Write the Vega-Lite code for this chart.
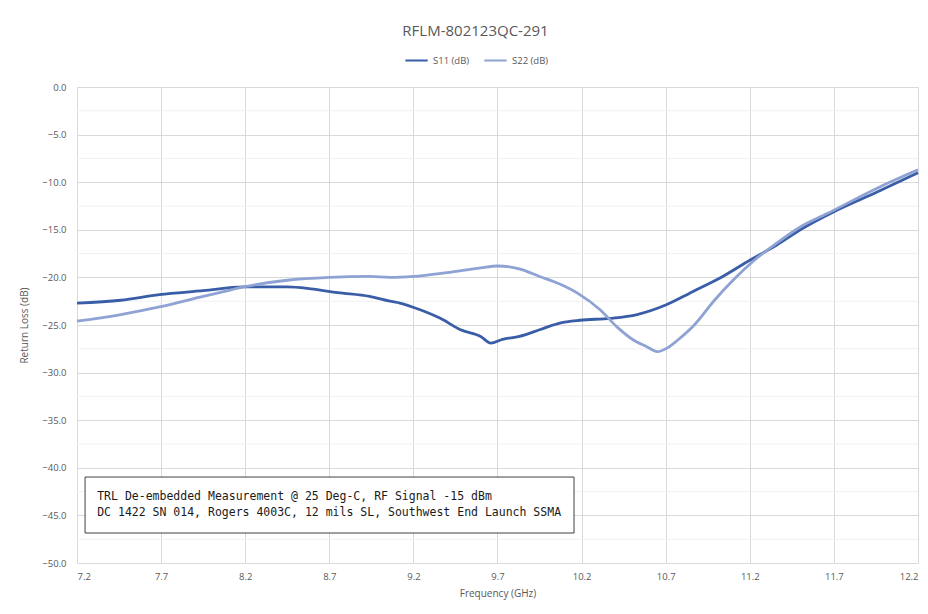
{
  "$schema": "https://vega.github.io/schema/vega-lite/v6.json",
  "width": 841,
  "height": 476,
  "autosize": "none",
  "padding": {"left": 77, "top": 87, "right": 10, "bottom": 51},
  "background": "white",
  "title": {"text": "RFLM-802123QC-291", "fontSize": 15, "font": "Open Sans", "fontWeight": "normal", "color": "#595959", "anchor": "middle", "offset": 9, "dx": -22},
  "config": {
    "view": {"stroke": null},
    "font": "Open Sans"
  },
  "datasets": {
    "curves": [
      {"freq": 7.2, "db": -22.7, "series": "S11 (dB)"},
      {"freq": 7.46, "db": -22.4, "series": "S11 (dB)"},
      {"freq": 7.69, "db": -21.8, "series": "S11 (dB)"},
      {"freq": 7.95, "db": -21.4, "series": "S11 (dB)"},
      {"freq": 8.19, "db": -21.0, "series": "S11 (dB)"},
      {"freq": 8.45, "db": -21.0, "series": "S11 (dB)"},
      {"freq": 8.59, "db": -21.2, "series": "S11 (dB)"},
      {"freq": 8.75, "db": -21.6, "series": "S11 (dB)"},
      {"freq": 8.94, "db": -22.0, "series": "S11 (dB)"},
      {"freq": 9.06, "db": -22.5, "series": "S11 (dB)"},
      {"freq": 9.12, "db": -22.7, "series": "S11 (dB)"},
      {"freq": 9.24, "db": -23.4, "series": "S11 (dB)"},
      {"freq": 9.36, "db": -24.3, "series": "S11 (dB)"},
      {"freq": 9.48, "db": -25.5, "series": "S11 (dB)"},
      {"freq": 9.6, "db": -26.2, "series": "S11 (dB)"},
      {"freq": 9.66, "db": -26.9, "series": "S11 (dB)"},
      {"freq": 9.73, "db": -26.5, "series": "S11 (dB)"},
      {"freq": 9.83, "db": -26.2, "series": "S11 (dB)"},
      {"freq": 9.95, "db": -25.5, "series": "S11 (dB)"},
      {"freq": 10.07, "db": -24.8, "series": "S11 (dB)"},
      {"freq": 10.19, "db": -24.5, "series": "S11 (dB)"},
      {"freq": 10.37, "db": -24.3, "series": "S11 (dB)"},
      {"freq": 10.53, "db": -23.9, "series": "S11 (dB)"},
      {"freq": 10.7, "db": -22.9, "series": "S11 (dB)"},
      {"freq": 10.86, "db": -21.5, "series": "S11 (dB)"},
      {"freq": 11.02, "db": -20.1, "series": "S11 (dB)"},
      {"freq": 11.2, "db": -18.2, "series": "S11 (dB)"},
      {"freq": 11.36, "db": -16.6, "series": "S11 (dB)"},
      {"freq": 11.5, "db": -15.0, "series": "S11 (dB)"},
      {"freq": 11.7, "db": -13.1, "series": "S11 (dB)"},
      {"freq": 11.96, "db": -11.0, "series": "S11 (dB)"},
      {"freq": 12.2, "db": -9.0, "series": "S11 (dB)"},
      {"freq": 7.2, "db": -24.6, "series": "S22 (dB)"},
      {"freq": 7.46, "db": -23.9, "series": "S22 (dB)"},
      {"freq": 7.69, "db": -23.1, "series": "S22 (dB)"},
      {"freq": 7.95, "db": -22.0, "series": "S22 (dB)"},
      {"freq": 8.07, "db": -21.5, "series": "S22 (dB)"},
      {"freq": 8.19, "db": -21.0, "series": "S22 (dB)"},
      {"freq": 8.45, "db": -20.3, "series": "S22 (dB)"},
      {"freq": 8.7, "db": -20.0, "series": "S22 (dB)"},
      {"freq": 8.94, "db": -19.9, "series": "S22 (dB)"},
      {"freq": 9.06, "db": -20.0, "series": "S22 (dB)"},
      {"freq": 9.2, "db": -19.9, "series": "S22 (dB)"},
      {"freq": 9.4, "db": -19.5, "series": "S22 (dB)"},
      {"freq": 9.6, "db": -19.0, "series": "S22 (dB)"},
      {"freq": 9.7, "db": -18.8, "series": "S22 (dB)"},
      {"freq": 9.83, "db": -19.1, "series": "S22 (dB)"},
      {"freq": 9.95, "db": -19.9, "series": "S22 (dB)"},
      {"freq": 10.07, "db": -20.7, "series": "S22 (dB)"},
      {"freq": 10.18, "db": -21.7, "series": "S22 (dB)"},
      {"freq": 10.31, "db": -23.4, "series": "S22 (dB)"},
      {"freq": 10.41, "db": -25.2, "series": "S22 (dB)"},
      {"freq": 10.51, "db": -26.6, "series": "S22 (dB)"},
      {"freq": 10.59, "db": -27.3, "series": "S22 (dB)"},
      {"freq": 10.65, "db": -27.8, "series": "S22 (dB)"},
      {"freq": 10.71, "db": -27.4, "series": "S22 (dB)"},
      {"freq": 10.77, "db": -26.6, "series": "S22 (dB)"},
      {"freq": 10.87, "db": -25.0, "series": "S22 (dB)"},
      {"freq": 10.99, "db": -22.4, "series": "S22 (dB)"},
      {"freq": 11.1, "db": -20.3, "series": "S22 (dB)"},
      {"freq": 11.22, "db": -18.3, "series": "S22 (dB)"},
      {"freq": 11.36, "db": -16.4, "series": "S22 (dB)"},
      {"freq": 11.5, "db": -14.7, "series": "S22 (dB)"},
      {"freq": 11.66, "db": -13.3, "series": "S22 (dB)"},
      {"freq": 11.96, "db": -10.6, "series": "S22 (dB)"},
      {"freq": 12.2, "db": -8.7, "series": "S22 (dB)"}
    ],
    "minor": [
      {"db": -2.5}, {"db": -7.5}, {"db": -12.5}, {"db": -17.5}, {"db": -22.5},
      {"db": -27.5}, {"db": -32.5}, {"db": -37.5}, {"db": -42.5}, {"db": -47.5}
    ],
    "box": [
      {"x1": 7.248, "x2": 10.155, "y1": -40.97, "y2": -46.85}
    ],
    "notes": [
      {"freq": 7.32, "db": -43.07, "label": "TRL De-embedded Measurement @ 25 Deg-C, RF Signal -15 dBm"},
      {"freq": 7.32, "db": -44.75, "label": "DC 1422 SN 014, Rogers 4003C, 12 mils SL, Southwest End Launch SSMA"}
    ]
  },
  "layer": [
    {
      "data": {"name": "minor"},
      "mark": {"type": "rule", "color": "#f0f0f0", "strokeWidth": 1},
      "encoding": {
        "y": {"field": "db", "type": "quantitative", "scale": {"domain": [-50, 0], "nice": false}}
      }
    },
    {
      "data": {"name": "curves"},
      "mark": {"type": "line", "strokeWidth": 2.8, "interpolate": "monotone"},
      "encoding": {
        "x": {
          "field": "freq", "type": "quantitative",
          "scale": {"domain": [7.2, 12.2], "nice": false, "zero": false},
          "axis": {
            "values": [7.2, 7.7, 8.2, 8.7, 9.2, 9.7, 10.2, 10.7, 11.2, 11.7, 12.2],
            "format": ".1f", "grid": true, "gridColor": "#d9d9d9", "domain": false, "ticks": false,
            "labelFontSize": 9.5, "labelColor": "#595959", "labelPadding": 8,
            "title": "Frequency (GHz)", "titleFontSize": 10, "titleFontWeight": "normal", "titleColor": "#595959", "titlePadding": 8
          }
        },
        "y": {
          "field": "db", "type": "quantitative",
          "scale": {"domain": [-50, 0], "nice": false},
          "axis": {
            "values": [0, -5, -10, -15, -20, -25, -30, -35, -40, -45, -50],
            "format": ".1f", "grid": true, "gridColor": "#d9d9d9", "domain": true, "domainColor": "#d9d9d9", "ticks": false,
            "labelFontSize": 9.5, "labelColor": "#595959", "labelPadding": 11,
            "title": "Return Loss (dB)", "titleFontSize": 10, "titleFontWeight": "normal", "titleColor": "#595959", "titlePadding": 12
          }
        },
        "color": {
          "field": "series", "type": "nominal",
          "scale": {"domain": ["S11 (dB)", "S22 (dB)"], "range": ["#3A5DA8", "#8EA2D4"]},
          "legend": {
            "title": null, "orient": "none", "direction": "horizontal", "legendX": 327, "legendY": -39,
            "symbolType": "stroke", "symbolSize": 500, "symbolStrokeWidth": 2, "labelFontSize": 9.5, "labelColor": "#595959", "columnPadding": 10
          }
        }
      }
    },
    {
      "data": {"name": "box"},
      "mark": {"type": "rect", "fill": "white", "stroke": "#404040", "strokeWidth": 1},
      "encoding": {
        "x": {"field": "x1", "type": "quantitative"},
        "x2": {"field": "x2"},
        "y": {"field": "y1", "type": "quantitative"},
        "y2": {"field": "y2"}
      }
    },
    {
      "data": {"name": "notes"},
      "mark": {"type": "text", "align": "left", "baseline": "middle", "font": "DejaVu Sans Mono", "fontSize": 11.5, "color": "#1a1a1a"},
      "encoding": {
        "x": {"field": "freq", "type": "quantitative"},
        "y": {"field": "db", "type": "quantitative"},
        "text": {"field": "label"}
      }
    }
  ]
}
